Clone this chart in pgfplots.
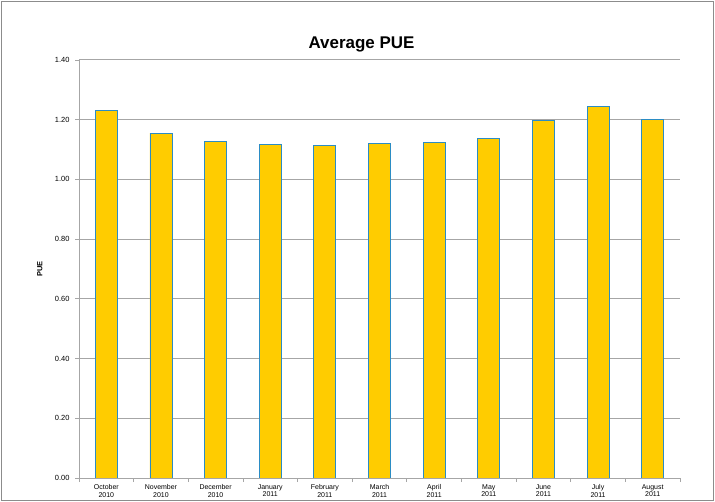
\documentclass[border=0pt]{standalone}
\usepackage{pgfplots}
\pgfplotsset{compat=1.18}
\usepackage{fontspec}
\setmainfont{Liberation Sans}
\definecolor{barfill}{HTML}{FFCC00}
\definecolor{baredge}{HTML}{2B8CC4}
\definecolor{gridc}{HTML}{A6A6A6}
\definecolor{framec}{HTML}{8C8C8C}
\begin{document}
\begin{tikzpicture}
\useasboundingbox (0,0) rectangle (715bp,502bp);
\draw[draw=framec, line width=1bp] (1.5bp,1.5bp) rectangle (713.5bp,500.5bp);
\begin{axis}[
  at={(79bp,24bp)}, anchor=south west,
  scale only axis, width=601bp, height=418bp,
  xmin=-0.5, xmax=10.5, ymin=0, ymax=1.4,
  axis x line*=bottom, axis y line*=left,
  axis line style={gridc, line width=1bp},
  xtick={0,...,10},
  xticklabels={{October\\2010},{November\\2010},{December\\2010},{January\\2011},{February\\2011},{March\\2011},{April\\2011},{May\\2011},{June\\2011},{July\\2011},{August\\2011}},
  xticklabel style={align=center, font=\fontsize{7}{7.5}\selectfont, yshift=1bp},
  major x tick style={draw=none},
  minor xtick={-0.5,0.5,...,10.5},
  minor x tick style={gridc, line width=0.8bp},
  minor tick length=4bp,
  tick align=outside,
  ytick={0,0.2,...,1.4},
  yticklabel style={font=\fontsize{7.5}{9}\selectfont, xshift=-2bp},
  /pgf/number format/assume math mode=true,
  yticklabel={\pgfmathprintnumber[fixed,fixed zerofill,precision=2]{\tick}},
  major y tick style={gridc, line width=0.8bp},
  major tick length=4bp,
  ymajorgrids, grid style={gridc, line width=1bp},
  title={Average PUE},
  title style={font=\bfseries\fontsize{17}{20}\selectfont, at={(axis description cs:0.5,1)}, anchor=base, inner sep=0pt, yshift=6bp, xshift=-18bp},
  ylabel={PUE},
  ylabel style={font=\bfseries\fontsize{7.5}{9}\selectfont, at={(axis description cs:-0.065,0.5)}, anchor=center},
  ybar, bar width=22bp,
]
\addplot[fill=barfill, draw=baredge, line width=0.9bp] coordinates {
(0,1.232) (1,1.155) (2,1.126) (3,1.116) (4,1.115) (5,1.120)
(6,1.124) (7,1.136) (8,1.198) (9,1.243) (10,1.201)};
\end{axis}
\end{tikzpicture}
\end{document}
